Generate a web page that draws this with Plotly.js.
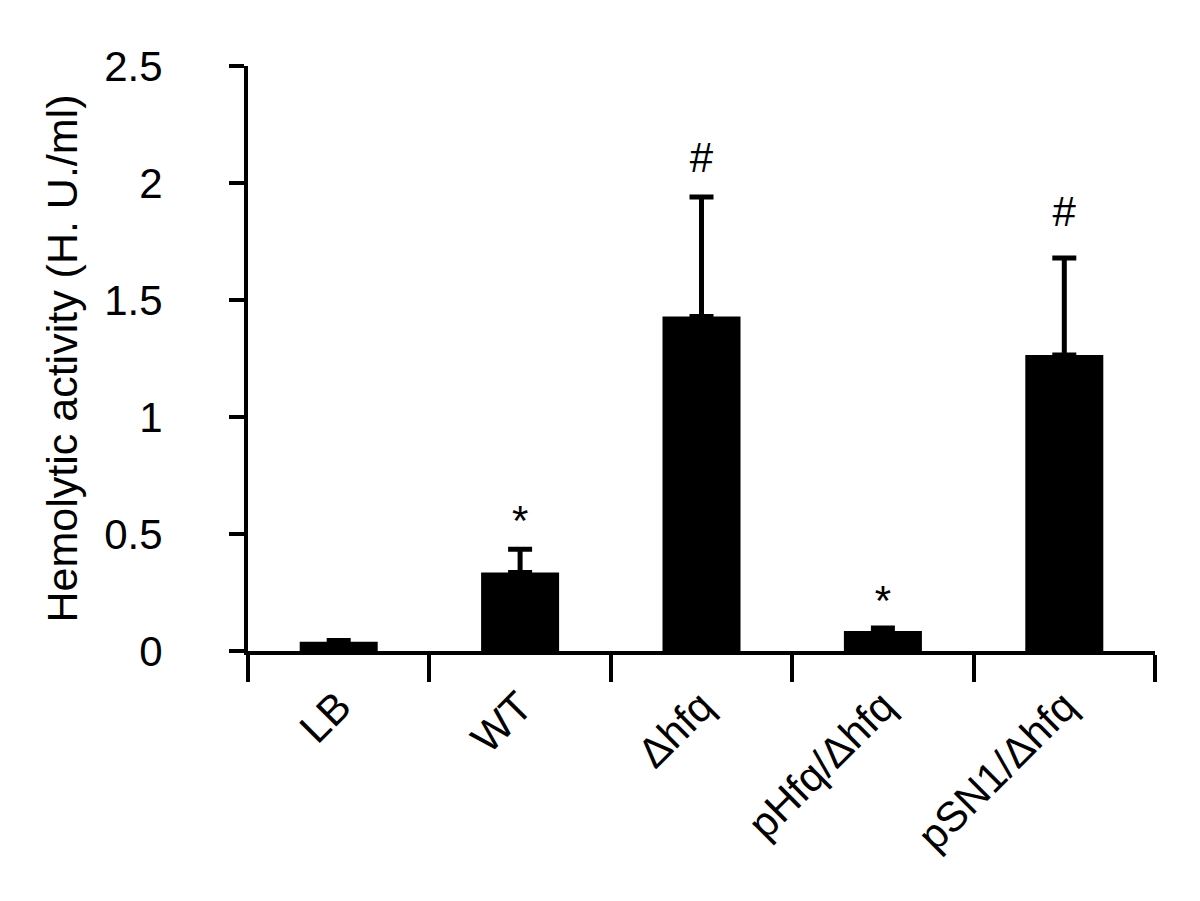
<!DOCTYPE html>
<html>
<head>
<meta charset="utf-8">
<script src="https://cdn.plot.ly/plotly-3.0.1.min.js"></script>
<style>
  body { margin: 0; background: #fff; }
  #plot { width: 1200px; height: 901px; }
</style>
</head>
<body>
<div id="plot"></div>
<script>
// strains on the x axis
var strains = ["LB", "WT", "Δhfq", "pHfq/Δhfq", "pSN1/Δhfq"];
// mean hemolytic activity (H. U./ml)
var activity = [0.04, 0.335, 1.43, 0.085, 1.265];
// upper end of the error bars
var errTop = [0.045, 0.435, 1.94, 0.098, 1.68];
// significance marks and their heights
var marks = ["", "*", "#", "*", "#"];
var markY = [0, 0.54, 2.09, 0.2, 1.86];

var errPlus = activity.map((v, i) => errTop[i] - v);
var errMinus = activity.map(() => 0);

var bars = {
  x: strains,
  y: activity,
  type: "bar",
  width: 0.43,
  marker: { color: "#000" },
  error_y: {
    type: "data",
    symmetric: false,
    array: errPlus,
    arrayminus: errMinus,
    color: "#000",
    thickness: 5,
    width: 12
  },
  hoverinfo: "none"
};

var sig = {
  x: strains,
  y: markY,
  text: marks,
  mode: "text",
  type: "scatter",
  textfont: { family: "Liberation Sans, Arial", size: 42, color: "#000" },
  hoverinfo: "none"
};

var font = { family: "Liberation Sans, Arial", size: 42, color: "#000" };

var layout = {
  width: 1200,
  height: 901,
  showlegend: false,
  paper_bgcolor: "#fff",
  plot_bgcolor: "#fff",
  font: font,
  margin: { l: 248, r: 45, t: 66, b: 250 },
  bargap: 0.57,
  xaxis: {
    range: [-0.5, 4.5],
    showline: true,
    linecolor: "#000",
    linewidth: 4,
    ticks: "outside",
    tickson: "boundaries",
    ticklen: 27,
    tickwidth: 4,
    tickcolor: "#000",
    tickangle: -45,
    tickfont: font,
    ticklabelstandoff: 10,
    showgrid: false,
    zeroline: false,
    fixedrange: true
  },
  yaxis: {
    range: [0, 2.5],
    dtick: 0.5,
    showline: true,
    linecolor: "#000",
    linewidth: 4,
    ticks: "outside",
    ticklen: 15,
    tickwidth: 4,
    tickcolor: "#000",
    tickfont: font,
    ticklabelstandoff: 58,
    showgrid: false,
    zeroline: false,
    fixedrange: true,
    title: {
      text: "Hemolytic activity (H. U./ml)",
      font: { family: "Liberation Sans, Arial", size: 43, color: "#000" },
      standoff: 14
    }
  }
};

Plotly.newPlot("plot", [bars, sig], layout, { displayModeBar: false, staticPlot: true });
</script>
</body>
</html>
